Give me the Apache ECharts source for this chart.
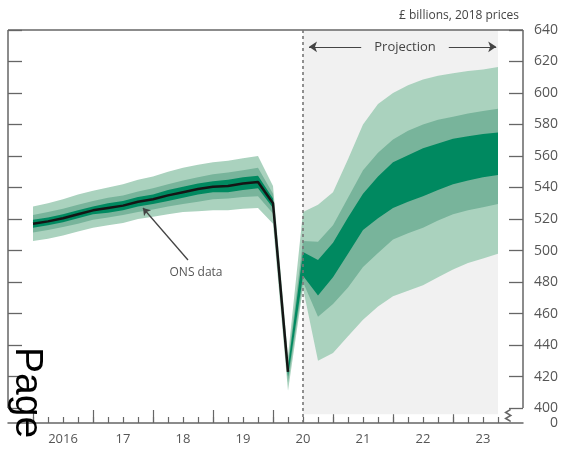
<!DOCTYPE html>
<html>
<head>
<meta charset="utf-8">
<script src="https://cdn.jsdelivr.net/npm/echarts@6/dist/echarts.min.js"></script>
<style>html,body{margin:0;padding:0;background:#fff}#c{width:564px;height:452px}</style>
</head>
<body>
<div id="c"></div>
<script>
// ---- categories (quarters) ----
const quarters = ['2016 Q1','2016 Q2','2016 Q3','2016 Q4','2017 Q1','2017 Q2','2017 Q3','2017 Q4',
  '2018 Q1','2018 Q2','2018 Q3','2018 Q4','2019 Q1','2019 Q2','2019 Q3','2019 Q4',
  '2020 Q1','2020 Q2','2020 Q3','2020 Q4','2021 Q1','2021 Q2','2021 Q3','2021 Q4',
  '2022 Q1','2022 Q2','2022 Q3','2022 Q4','2023 Q1','2023 Q2','2023 Q3','2023 Q4'];

// ---- ONS data (black line), 2016 Q1 - 2020 Q2 ----
const onsData = [517, 518.5, 520.5, 523, 525.5, 527, 528.5, 531, 532.5, 535, 537, 539, 540.5, 541, 542.5, 543.5, 530, 423];

// ---- fan band boundaries, 2016 Q1 - 2023 Q4 ----
const lightTop = [528,530,532.5,535.5,538,540,542,545,547,550,552.5,554.5,556,557,558.5,560,541,433,
  524.5,529,537,558,580,593,600,605,608.5,611,612.5,614,615,616.5];
const midTop = [522.5,524.5,526.5,529,531.5,533.5,535,537.5,539.5,542,544.5,546.5,548.5,549.5,551,552.5,536,429,
  506,505.5,516,533.5,551,562,570.5,576,580,583,585,587,588.5,590];
const darkTop = [519.5,521,523,525.5,528,530,531.5,534,535.5,538.5,540.5,542.5,544,545,546.5,547.5,533,426,
  499,494,505,521,536,547,556,560.5,565,568,571,572.5,574,575];
const darkBottom = [514.5,516,518,520.5,523,524,525.5,528,529.5,531.5,533.5,535.5,537,537,538.5,539.5,527,420,
  484,471.5,483,498,513,520.5,527,531,534.5,538.5,542,544.5,546.5,548];
const midBottom = [511.5,513,515,517,519.5,521,522.5,524.5,526,528,529.5,531,532.5,533,534,534.5,523.5,416,
  480,458,466,476.5,489.5,498.5,507,511,514.5,519,523,525.5,527.5,529.5];
const lightBottom = [506,507.5,509.5,512,514.5,516,517.5,520,521.5,523,524.5,525,525.5,525.5,526.5,527,517,411,
  476,430,435,445.5,456,464.5,471,474.5,478,483,488,492,495,498];

// ---- tick labels ----
const yearLabels = ['2016','17','18','19','20','21','22','23'];
const yTickValues = [400,420,440,460,480,500,520,540,560,580,600,620,640];
const yBreakLabel = '0';
const unitLabel = '£ billions, 2018 prices';
const projLabel = 'Projection';
const onsLabel = 'ONS data';
const pageText = 'Page';

// ---- derived positions ----
const xPos = quarters.map(q => +q.slice(0,4) + (+q.slice(-1) - 1) / 4);
const yearStarts = yearLabels.map((_, i) => 2016 + i);
const yearCenters = yearLabels.map((_, i) => 2016.5 + i);
const xMin = 2015 + 7/12, xMax = 2024 + 1/6;
const yMin = 390.5, yMax = 640;
const projStart = 2020.5, projEnd = 2023.75;
const FONT = '"Open Sans", sans-serif';

const bands = [
  {upper: lightTop, lower: lightBottom, color: '#aad2be'},
  {upper: midTop, lower: midBottom, color: '#78b49b'},
  {upper: darkTop, lower: darkBottom, color: '#008960'}
];

function renderBand(params, api) {
  const b = bands[params.dataIndex];
  const pts = [];
  for (let i = 0; i < xPos.length; i++) pts.push(api.coord([xPos[i], b.upper[i]]));
  for (let i = xPos.length - 1; i >= 0; i--) pts.push(api.coord([xPos[i], b.lower[i]]));
  return {type: 'polygon', shape: {points: pts}, style: {fill: b.color, stroke: null}};
}

const frameStyle = {color: '#666', width: 1.5, type: 'solid'};
const arrowY = 629.3;

const chart = echarts.init(document.getElementById('c'));
chart.setOption({
  animation: false,
  title: {text: unitLabel, right: 40, top: 5,
    textStyle: {fontSize: 12, fontWeight: 'normal', color: '#444', fontFamily: FONT}},
  grid: {left: 8, right: 41, top: 30, bottom: 29},
  xAxis: [
    {type: 'value', min: xMin, max: xMax, position: 'bottom',
      axisLine: {show: true, lineStyle: {color: '#666', width: 1.5}},
      axisTick: {show: true, inside: true, length: 6, customValues: xPos, lineStyle: {color: '#666', width: 1.2}},
      axisLabel: {customValues: yearCenters, margin: 10, color: '#555', fontSize: 13, fontFamily: FONT,
        formatter: v => yearLabels[Math.round(v - 2016.5)]},
      splitLine: {show: false}},
    {type: 'value', min: xMin, max: xMax, position: 'bottom',
      axisLine: {show: false},
      axisTick: {show: true, inside: true, length: 13, customValues: yearStarts, lineStyle: {color: '#666', width: 1.2}},
      axisLabel: {show: false}, splitLine: {show: false}}
  ],
  yAxis: [
    {type: 'value', min: yMin, max: yMax, position: 'right',
      axisLine: {show: false},
      axisTick: {show: true, inside: true, length: 14, customValues: yTickValues, lineStyle: {color: '#666', width: 1.3}},
      axisLabel: {customValues: [yMin].concat(yTickValues), align: 'right', margin: 35, color: '#555', fontSize: 14, fontFamily: FONT,
        formatter: v => (v === yMin ? yBreakLabel : String(v))},
      splitLine: {show: false}},
    {type: 'value', min: yMin, max: yMax, position: 'left',
      axisLine: {show: false},
      axisTick: {show: true, inside: true, length: 14, customValues: yTickValues, lineStyle: {color: '#666', width: 1.3}},
      axisLabel: {show: false}, splitLine: {show: false}}
  ],
  series: [
    {type: 'line', data: [], z: 1, silent: true,
      markArea: {silent: true, itemStyle: {color: '#f1f1f1'},
        data: [[{xAxis: projStart, yAxis: 396}, {xAxis: projEnd, yAxis: yMax}]]}},
    {type: 'custom', z: 2, silent: true, renderItem: renderBand,
      data: bands.map(b => [xPos[0], b.lower[0]])},
    {type: 'line', z: 3, silent: true, symbol: 'none', showSymbol: false,
      data: onsData.map((v, i) => [xPos[i], v]),
      lineStyle: {color: '#151515', width: 2.5},
      markLine: {silent: true, symbol: ['none', 'arrow'], symbolSize: 7, label: {show: false},
        lineStyle: {color: '#444', width: 1.3, type: 'solid'},
        data: [[{coord: [2018.583, 494]}, {coord: [2017.833, 527]}]]},
      markPoint: {silent: true, symbol: 'rect', symbolSize: 1, itemStyle: {color: 'transparent'},
        label: {show: true, position: 'inside', formatter: onsLabel, color: '#555', fontSize: 12, fontFamily: FONT},
        data: [{coord: [2018.717, 486.3]}]}},
    {type: 'line', z: 5, silent: true, clip: false, data: [],
      markLine: {silent: true, symbol: ['none', 'none'], symbolSize: 8, label: {show: false},
        lineStyle: frameStyle,
        data: [
          [{coord: [xMin, yMax]}, {coord: [xMax, yMax]}],
          [{coord: [xMin, 400]}, {coord: [xMin, yMax]}],
          [{coord: [xMax, 400]}, {coord: [xMax, yMax]}],
          [{coord: [projStart, yMin], lineStyle: {color: '#777', width: 1.6, type: [3, 3]}}, {coord: [projStart, yMax]}],
          [{coord: [2021.47, arrowY], symbol: 'none', lineStyle: {color: '#444', width: 1.2}}, {coord: [2020.6, arrowY], symbol: 'arrow'}],
          [{coord: [2022.93, arrowY], symbol: 'none', lineStyle: {color: '#444', width: 1.2}}, {coord: [2023.72, arrowY], symbol: 'arrow'}]
        ]},
      markPoint: {silent: true,
        data: [
          {coord: [2022.2, arrowY], symbol: 'rect', symbolSize: 1, itemStyle: {color: 'transparent'},
            label: {show: true, position: 'inside', formatter: projLabel, color: '#444', fontSize: 13, fontFamily: FONT}},
          {coord: [2023.92, 395.3], symbol: 'path://M4,0 L0,3 L4,6 L0,9 L4,12', symbolSize: [5, 12],
            itemStyle: {color: 'transparent', borderColor: '#666', borderWidth: 1.2}, label: {show: false}}
        ]}}
  ],
  graphic: [
    {type: 'text', x: 27, y: 347, rotation: -Math.PI / 2, z: 100,
      style: {text: pageText, font: '39px "Liberation Sans", sans-serif', fill: '#000', align: 'left', verticalAlign: 'middle'}}
  ]
});
</script>
</body>
</html>
